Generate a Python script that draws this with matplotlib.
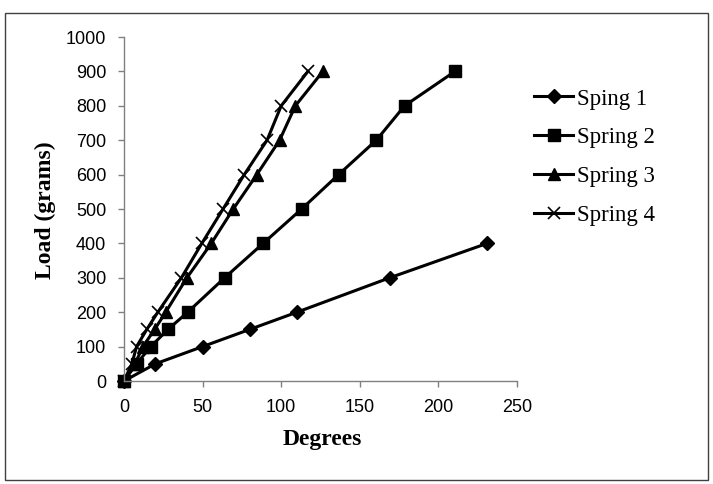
import matplotlib
matplotlib.use("Agg")
import matplotlib.pyplot as plt
from matplotlib.patches import Rectangle

# Data
loads_1 = [0, 50, 100, 150, 200, 300, 400]
deg_1 = [0, 20, 50, 80, 110, 169, 231]

loads_2 = [0, 50, 100, 150, 200, 300, 400, 500, 600, 700, 800, 900]
deg_2 = [0, 8, 17, 28, 40.5, 64, 88.5, 113, 136.5, 160.5, 178.5, 210.5]

loads_3 = [0, 50, 100, 150, 200, 300, 400, 500, 600, 700, 800, 900]
deg_3 = [0, 7, 12, 19.5, 26.5, 40, 55.5, 69.5, 84.5, 99, 109, 126.5]

loads_4 = [0, 50, 100, 150, 200, 300, 400, 500, 600, 700, 800, 900]
deg_4 = [0, 5, 8, 14.5, 21.5, 36.5, 49.5, 63, 76.5, 91, 100, 117]

labels = ["Sping 1", "Spring 2", "Spring 3", "Spring 4"]
x_ticks = [0, 50, 100, 150, 200, 250]
y_ticks = [0, 100, 200, 300, 400, 500, 600, 700, 800, 900, 1000]

W, H = 713, 484
fig = plt.figure(figsize=(W / 100, H / 100), dpi=100)
ax = fig.add_axes([124 / W, 1 - 381 / H, (517 - 124) / W, (381 - 37) / H])

tick_font = ["Liberation Sans", "DejaVu Sans"]
serif = ["Liberation Serif", "DejaVu Serif"]

lw = 2.2
ax.plot(deg_1, loads_1, color="black", lw=lw, marker="D", ms=7, label=labels[0])
ax.plot(deg_2, loads_2, color="black", lw=lw, marker="s", ms=8.5, label=labels[1])
ax.plot(deg_3, loads_3, color="black", lw=lw, marker="^", ms=8.5, label=labels[2])
ax.plot(deg_4, loads_4, color="black", lw=lw, marker="x", ms=8, mew=1.2, label=labels[3])

ax.set_xlim(0, 250)
ax.set_ylim(0, 1000)
ax.set_xticks(x_ticks)
ax.set_yticks(y_ticks)
ax.set_xticklabels([str(v) for v in x_ticks], fontsize=13, family=tick_font)
ax.set_yticklabels([str(v) for v in y_ticks], fontsize=13, family=tick_font)
ax.tick_params(direction="out", length=4.3, width=1, color="#808080")
ax.tick_params(axis="y", pad=8.5)
ax.tick_params(axis="x", pad=9)

for s in ["top", "right"]:
    ax.spines[s].set_visible(False)
for s in ["left", "bottom"]:
    ax.spines[s].set_color("#808080")
    ax.spines[s].set_linewidth(1)
for ln in ax.lines:
    ln.set_clip_on(False)

fig.text(322 / W, 1 - 440 / H, "Degrees", ha="center", va="center",
         fontsize=17, fontweight="bold", family=serif)
fig.text(45 / W, 1 - 210 / H, "Load (grams)", ha="center", va="center",
         rotation=90, fontsize=17, fontweight="bold", family=serif)

fig.legend(loc="upper left", bbox_to_anchor=(523 / W, 1 - 77 / H),
           frameon=False, prop={"family": serif, "size": 16.5},
           handlelength=1.7, handletextpad=0.17, labelspacing=0.77,
           numpoints=1, borderpad=0)

fig.patches.append(Rectangle((5 / W, 1 - 480 / H), 703 / W, 467 / H,
                             transform=fig.transFigure, fill=False,
                             edgecolor="#404040", lw=1))

fig.savefig("out.png", dpi=100)
